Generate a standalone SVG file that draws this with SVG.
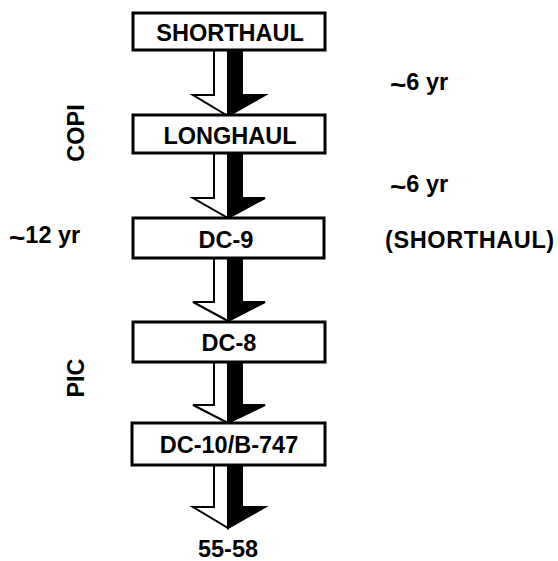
<svg xmlns="http://www.w3.org/2000/svg" width="558" height="561" viewBox="0 0 558 561">
<style>
.box{fill:#fff;stroke:#000;stroke-width:3}
.t{font-family:"Liberation Sans",Arial,sans-serif;font-weight:bold;font-size:23.5px;fill:#000}
.c{text-anchor:middle}
.tl{font-size:28px}
.w{fill:#fff;stroke:#000;stroke-width:2;stroke-linejoin:miter}
.b{fill:#000;stroke:#000;stroke-width:2}
</style>
<rect width="558" height="561" fill="#fff"/>
<g id="connectors">
<g id="a1"><polygon class="w" points="228,50 214,50 214,95 193,95 228,116"/><polygon class="b" points="228,50 242,50 242,95 265,95 228,116"/></g>
<g id="a2"><polygon class="w" points="228,153 214,153 214,198 193,198 228,218"/><polygon class="b" points="228,153 242,153 242,198 265,198 228,218"/></g>
<g id="a3"><polygon class="w" points="228,258 214,258 214,302 193,302 228,321"/><polygon class="b" points="228,258 242,258 242,302 265,302 228,321"/></g>
<g id="a4"><polygon class="w" points="228,362 214,362 214,405 193,405 228,423"/><polygon class="b" points="228,362 242,362 242,405 265,405 228,423"/></g>
<g id="a5"><polygon class="w" points="228,465 214,465 214,507 193,507 228,528"/><polygon class="b" points="228,465 242,465 242,507 265,507 228,528"/></g>
</g>
<g id="shorthaul"><rect class="box" x="133" y="13" width="192" height="37"/><text class="t c" x="230" y="41">SHORTHAUL</text></g>
<g id="longhaul"><rect class="box" x="133" y="115" width="192" height="38"/><text class="t c" x="230" y="144">LONGHAUL</text></g>
<g id="dc9"><rect class="box" x="133" y="218" width="191" height="40"/><text class="t c" x="226" y="248">DC-9</text></g>
<g id="dc8"><rect class="box" x="133" y="322" width="192" height="40"/><text class="t c" x="229" y="351">DC-8</text></g>
<g id="dc10"><rect class="box" x="132" y="423" width="193" height="42"/><text class="t c" x="229" y="453">DC-10/B-747</text></g>
<g id="end"><text class="t c" x="228" y="557">55-58</text></g>
<g id="labels">
<text class="t" x="390" y="90"><tspan class="tl" dy="4">~</tspan><tspan dy="-4">6 yr</tspan></text>
<text class="t" x="390" y="192"><tspan class="tl" dy="4">~</tspan><tspan dy="-4">6 yr</tspan></text>
<text class="t" x="385" y="248" letter-spacing="0.6">(SHORTHAUL)</text>
<text class="t" x="9" y="243"><tspan class="tl" dy="4">~</tspan><tspan dy="-4">12 yr</tspan></text>
<text class="t c" transform="translate(84,133) rotate(-90)">COPI</text>
<text class="t c" transform="translate(84,378) rotate(-90)">PIC</text>
</g>
</svg>
